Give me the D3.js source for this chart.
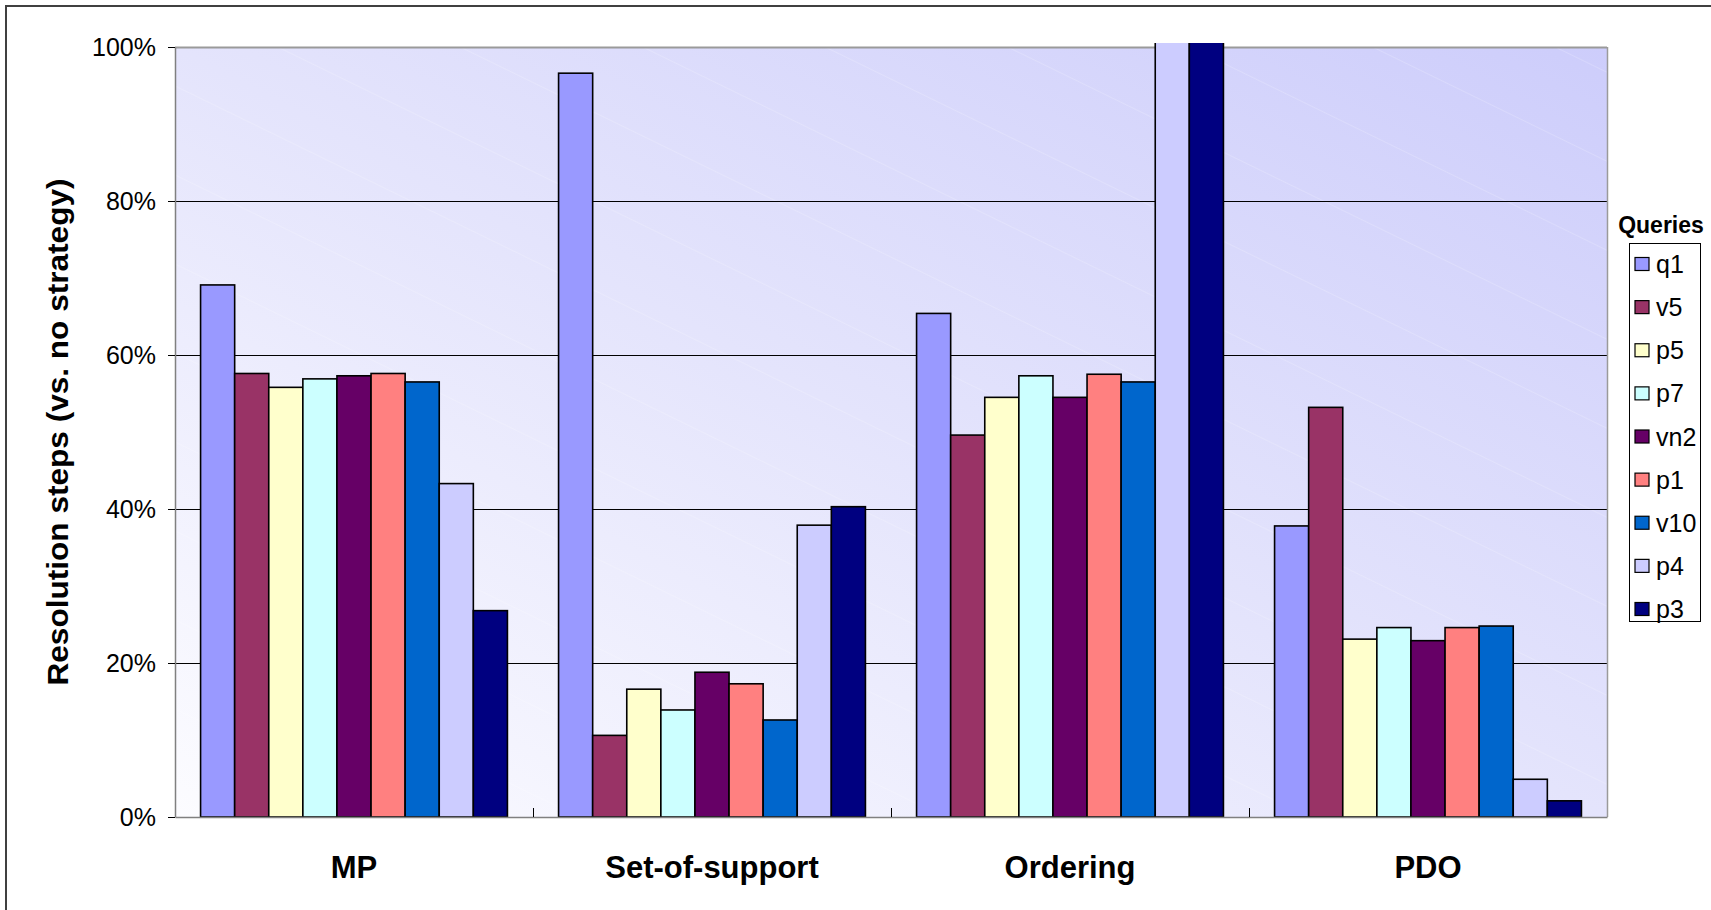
<!DOCTYPE html>
<html>
<head>
<meta charset="utf-8">
<script src="https://cdn.jsdelivr.net/npm/d3@7"></script>
<style>
  html, body { margin: 0; padding: 0; background: #fff; }
  svg { display: block; font-family: "Liberation Sans", Arial, sans-serif; }
</style>
</head>
<body>
<svg id="chart" width="1711" height="910"></svg>
<script>
// ---------------- DATA ----------------
const categories = ["MP", "Set-of-support", "Ordering", "PDO"];
const seriesNames = ["q1", "v5", "p5", "p7", "vn2", "p1", "v10", "p4", "p3"];
const seriesColors = ["#9999FF", "#993366", "#FFFFCC", "#CCFFFF", "#660066", "#FF8080", "#0066CC", "#CCCCFF", "#000080"];
// values in % (per category: MP, Set-of-support, Ordering, PDO)
const q1  = [69.1, 96.6, 65.4, 37.8];
const v5  = [57.6, 10.6, 49.6, 53.2];
const p5  = [55.8, 16.6, 54.5, 23.1];
const p7  = [56.9, 13.9, 57.3, 24.6];
const vn2 = [57.3, 18.8, 54.5, 22.9];
const p1  = [57.6, 17.3, 57.5, 24.6];
const v10 = [56.5, 12.6, 56.5, 24.8];
const p4  = [43.3, 37.9, 105, 4.9];   // Ordering value exceeds the axis maximum (clipped)
const p3  = [26.8, 40.3, 105, 2.1];   // Ordering value exceeds the axis maximum (clipped)
const yTickValues = [0, 20, 40, 60, 80, 100];
const yTickLabels = ["0%", "20%", "40%", "60%", "80%", "100%"];
const yTitle = "Resolution steps (vs. no strategy)";
const legendTitle = "Queries";

const seriesValues = [q1, v5, p5, p7, vn2, p1, v10, p4, p3];

// ---------------- LAYOUT ----------------
const svg = d3.select("#chart");
const plot = { left: 175, right: 1607, top: 47, bottom: 817 };

const x0 = d3.scaleBand().domain(categories).range([plot.left, plot.right]).paddingInner(0).paddingOuter(0);
const x1 = d3.scaleBand().domain(seriesNames).range([0, x0.bandwidth()]).paddingInner(0).paddingOuter(0.75);
const y = d3.scaleLinear().domain([0, 100]).range([plot.bottom, plot.top]);

const defs = svg.append("defs");
const grad = defs.append("linearGradient").attr("id", "bg")
  .attr("x1", "0").attr("y1", "1").attr("x2", "1").attr("y2", "0");
grad.append("stop").attr("offset", "0%").attr("stop-color", "#FCFCFF");
grad.append("stop").attr("offset", "50%").attr("stop-color", "#E4E4FC");
grad.append("stop").attr("offset", "100%").attr("stop-color", "#CDCDFB");

const pat = defs.append("pattern").attr("id", "stripes").attr("patternUnits", "userSpaceOnUse")
  .attr("width", 180).attr("height", 80).attr("patternTransform", "rotate(26)");
pat.append("line").attr("x1", 0).attr("y1", 0).attr("x2", 180).attr("y2", 0)
  .attr("stroke", "#ffffff").attr("stroke-opacity", 0.35).attr("stroke-width", 1);

defs.append("clipPath").attr("id", "clip").append("rect")
  .attr("x", plot.left - 5).attr("y", plot.top - 4)
  .attr("width", plot.right - plot.left + 10).attr("height", plot.bottom - plot.top + 10);

// outer chart border (left and top visible)
svg.append("path").attr("d", `M6,910 L6,6 L1711,6`).attr("fill", "none")
  .attr("stroke", "#404040").attr("stroke-width", 2);

// plot background
svg.append("rect").attr("x", plot.left).attr("y", plot.top)
  .attr("width", plot.right - plot.left).attr("height", plot.bottom - plot.top)
  .attr("fill", "url(#bg)");
svg.append("rect").attr("x", plot.left).attr("y", plot.top)
  .attr("width", plot.right - plot.left).attr("height", plot.bottom - plot.top)
  .attr("fill", "url(#stripes)");

// gridlines
svg.append("g").selectAll("line").data(yTickValues.filter(d => d > 0)).join("line")
  .attr("x1", plot.left).attr("x2", plot.right)
  .attr("y1", d => Math.round(y(d)) + 0.5).attr("y2", d => Math.round(y(d)) + 0.5)
  .attr("stroke", d => d === 100 ? "#9a9a9a" : "#000").attr("stroke-width", d => d === 100 ? 2 : 1);

// plot area border right (gray)
svg.append("line").attr("x1", plot.right + 0.5).attr("x2", plot.right + 0.5)
  .attr("y1", plot.top).attr("y2", plot.bottom).attr("stroke", "#9a9a9a").attr("stroke-width", 1.5);

// bars
const barsG = svg.append("g").attr("clip-path", "url(#clip)");
seriesNames.forEach((s, si) => {
  barsG.append("g").selectAll("rect")
    .data(categories.map((c, ci) => ({ c, v: seriesValues[si][ci] })))
    .join("rect")
    .attr("x", d => x0(d.c) + x1(s))
    .attr("width", x1.bandwidth())
    .attr("y", d => y(d.v))
    .attr("height", d => y(0) - y(d.v))
    .attr("fill", seriesColors[si])
    .attr("stroke", "#000").attr("stroke-width", 1.6);
});

// y axis
const yAxis = d3.axisLeft(y).tickValues(yTickValues)
  .tickFormat((d, i) => yTickLabels[i]).tickSize(7).tickSizeOuter(0).tickPadding(12);
const yg = svg.append("g").attr("transform", `translate(${plot.left},0)`).call(yAxis);
yg.select(".domain").attr("stroke", "#808080").attr("stroke-width", 1.5);
yg.selectAll(".tick line").attr("stroke", "#000");
yg.selectAll(".tick text").attr("font-size", 25).attr("fill", "#000")
  .attr("font-family", "Liberation Sans, Arial, sans-serif");

// x axis
const xAxis = d3.axisBottom(x0).tickSize(0).tickPadding(0);
const xg = svg.append("g").attr("transform", `translate(0,${plot.bottom})`).call(xAxis);
xg.select(".domain").attr("stroke", "#808080").attr("stroke-width", 1.5);
xg.selectAll(".tick text").attr("font-size", 31).attr("font-weight", "bold").attr("fill", "#000")
  .attr("font-family", "Liberation Sans, Arial, sans-serif")
  .attr("dy", null).attr("y", 61);
// category boundary tick marks (inside)
svg.append("g").selectAll("line").data(categories.slice(1)).join("line")
  .attr("x1", d => x0(d) + 0.5).attr("x2", d => x0(d) + 0.5)
  .attr("y1", plot.bottom).attr("y2", plot.bottom - 9)
  .attr("stroke", "#000");

// y title
svg.append("text")
  .attr("transform", `translate(68,${(plot.top + plot.bottom) / 2}) rotate(-90)`)
  .attr("text-anchor", "middle").attr("font-size", 30).attr("font-weight", "bold")
  .attr("textLength", 507).attr("lengthAdjust", "spacingAndGlyphs")
  .text(yTitle);

// legend
const lg = svg.append("g");
lg.append("text").attr("x", 1661).attr("y", 233).attr("text-anchor", "middle")
  .attr("font-size", 23).attr("font-weight", "bold").text(legendTitle);
lg.append("rect").attr("x", 1629.5).attr("y", 243.5).attr("width", 71).attr("height", 378)
  .attr("fill", "#fff").attr("stroke", "#000").attr("stroke-width", 1);
const ly = d3.scalePoint().domain(seriesNames).range([264, 609]);
const items = lg.selectAll("g.item").data(seriesNames).join("g").attr("class", "item")
  .attr("transform", d => `translate(1635,${ly(d)})`);
items.append("rect").attr("x", 0).attr("y", -6.5).attr("width", 14).attr("height", 13)
  .attr("fill", (d, i) => seriesColors[i]).attr("stroke", "#000").attr("stroke-width", 1.2);
items.append("text").attr("x", 21).attr("y", 0).attr("dy", "0.36em")
  .attr("font-size", 25).text(d => d);
</script>
</body>
</html>
